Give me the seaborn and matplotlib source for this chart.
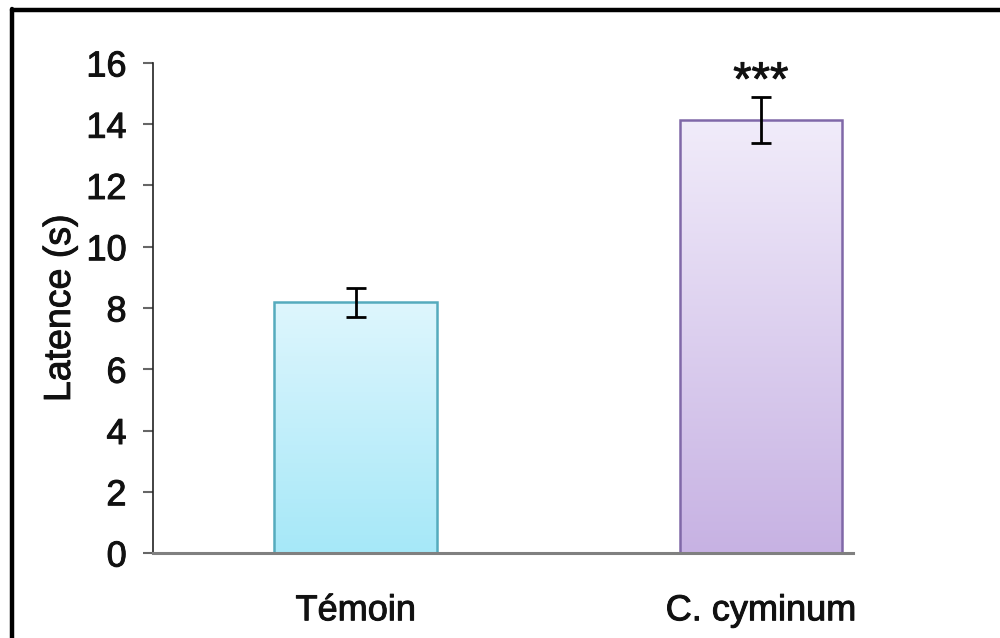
import numpy as np
import pandas as pd
import matplotlib
matplotlib.use('Agg')
import matplotlib.pyplot as plt
import matplotlib.patheffects as pe
from matplotlib.colors import LinearSegmentedColormap
from matplotlib.lines import Line2D
import seaborn as sns

# --- data ---
groups = ['Témoin', 'C. cyminum']
latence = [8.18, 14.15]
erreur = [0.47, 0.75]
signif = ['', '***']
y_ticks = [0, 2, 4, 6, 8, 10, 12, 14, 16]

# gradient colours (top, bottom) and edges
grad_top = ['#def6fd', '#f1ecfa']
grad_bottom = ['#a6e8f8', '#c7b2e3']
edge_cols = ['#55abbd', '#8068a8']

sns.set_theme(style='white')
plt.rcParams['font.family'] = ['Liberation Sans', 'DejaVu Sans']

df = pd.DataFrame({'groupe': groups, 'latence': latence})

fig = plt.figure(figsize=(10, 6.38), dpi=100)
ax = fig.add_axes([0.153, 0.1332, 0.70, 0.7681])

sns.barplot(data=df, x='groupe', y='latence', hue='groupe', palette=grad_bottom,
            width=0.402, legend=False, ax=ax, errorbar=None)

# gradient fill inside each bar + edge colour
for i, patch in enumerate(ax.patches):
    patch.set_edgecolor(edge_cols[i])
    patch.set_linewidth(1.8)
    x0, y0 = patch.get_x(), patch.get_y()
    w, h = patch.get_width(), patch.get_height()
    cmap = LinearSegmentedColormap.from_list('g%d' % i, [grad_bottom[i], grad_top[i]])
    grad = np.linspace(0, 1, 256).reshape(-1, 1)
    im = ax.imshow(grad, cmap=cmap, origin='lower', aspect='auto',
                   extent=[x0, x0 + w, y0, y0 + h], zorder=patch.get_zorder() - 0.1)
    im.set_clip_path(patch)
    patch.set_facecolor('none')

ax.errorbar(range(len(groups)), latence, yerr=erreur, fmt='none', ecolor='black',
            elinewidth=2, capsize=7, capthick=2, zorder=5)

# slightly heavier text, like the scanned original
heavy = [pe.withStroke(linewidth=0.7, foreground='#111111')]

for i, s in enumerate(signif):
    if s:
        ax.text(i, latence[i] + erreur[i] + 0.45, s, ha='center', va='center',
                fontsize=34, color='#111111', path_effects=heavy)

ax.set_xlim(-0.5, 1.227)
ax.set_ylim(0, 16)
ax.set_yticks(y_ticks)
ax.set_yticklabels([str(t) for t in y_ticks], fontsize=26, color='#111111')
ax.set_xticks(range(len(groups)))
ax.set_xticklabels(groups, fontsize=26, color='#111111')
ax.set_xlabel('')
ax.set_ylabel('Latence (s)', fontsize=27, color='#111111', labelpad=6,
              path_effects=heavy)
for lab in ax.get_xticklabels() + ax.get_yticklabels():
    lab.set_path_effects(heavy)

for side in ['top', 'right']:
    ax.spines[side].set_visible(False)
ax.spines['left'].set_color('#222222')
ax.spines['left'].set_linewidth(1.2)
ax.spines['bottom'].set_color('#808080')
ax.spines['bottom'].set_linewidth(2.2)
ax.tick_params(axis='y', direction='out', length=7, width=1.5, color='#666666',
               left=True, pad=12)
ax.tick_params(axis='x', length=0, pad=29)

# black frame lines on top and left of the picture
fig.add_artist(Line2D([0.012, 1.0], [0.984, 0.984], color='black', lw=3.2,
                      transform=fig.transFigure))
fig.add_artist(Line2D([0.012, 0.012], [0.0, 0.986], color='black', lw=3.2,
                      transform=fig.transFigure))

fig.savefig('out.png', dpi=100, facecolor='white')
